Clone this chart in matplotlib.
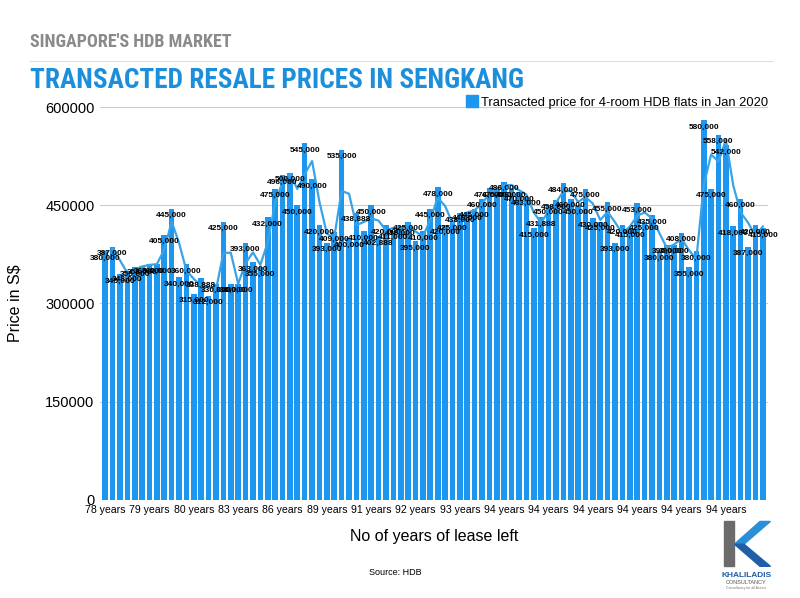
import matplotlib
matplotlib.use("Agg")
import matplotlib.pyplot as plt
import numpy as np
from matplotlib import font_manager
from matplotlib.patches import Polygon
from matplotlib.lines import Line2D

# remaining lease (x tick every 6th bar) and transacted prices
lease_ticks = ["78 years", "79 years", "80 years", "83 years", "86 years", "89 years",
               "91 years", "92 years", "93 years", "94 years", "94 years", "94 years",
               "94 years", "94 years", "94 years"]
prices = [380000, 387000, 345000, 348000, 355000, 358000, 360000, 360000, 405000, 445000,
          340000, 360000, 315000, 338888, 312000, 330000, 425000, 330000, 330000, 393000,
          363000, 355000, 432000, 475000, 496000, 500000, 450000, 545000, 490000, 420000,
          393000, 409000, 535000, 400000, 438888, 410000, 450000, 402888, 420000, 411000,
          418000, 425000, 395000, 410000, 445000, 478000, 420000, 425000, 438000, 440000,
          445000, 460000, 476000, 475000, 486000, 476000, 470000, 463000, 415000, 431888,
          450000, 458000, 484000, 460000, 450000, 475000, 430000, 425000, 455000, 393000,
          420000, 415000, 453000, 425000, 435000, 380000, 390000, 390000, 408000, 355000,
          380000, 580000, 475000, 558000, 542000, 418000, 460000, 387000, 420000, 415000]
tick_step = 6
yticks = [0, 150000, 300000, 450000, 600000]

BAR = "#1c96ef"
LINE = "#3aa3e6"

plt.rcParams["font.family"] = ["Liberation Sans", "DejaVu Sans"]

# pick a narrow font for the header if one is installed
names = {f.name for f in font_manager.fontManager.ttflist}
narrow = [n for n in ["Liberation Sans Narrow", "DejaVu Sans Condensed", "Roboto Condensed",
                      "Open Sans Condensed", "Noto Sans Display"] if n in names]
head_font = narrow + ["Roboto", "DejaVu Sans"]

fig = plt.figure(figsize=(8, 5.98), dpi=100)
ax = fig.add_axes([0.125, 0.164, 0.835, 0.657])

x = np.arange(len(prices))
ax.bar(x, prices, width=0.76, color=BAR, zorder=2)

# 2-period moving average trend line
p = np.array(prices, dtype=float)
ma = (p[1:] + p[:-1]) / 2
ax.plot(x[1:], ma, color=LINE, lw=1.6, zorder=3)

for xi, v in zip(x, prices):
    ax.annotate(f"{v:,}", (xi, v), xytext=(0, -5), textcoords="offset points",
                ha="center", va="center", fontsize=6, fontweight="bold",
                color="black", zorder=4)

ax.set_ylim(0, 600000)
ax.set_xlim(-0.7, len(prices) - 0.3)
ax.set_yticks(yticks)
ax.set_yticklabels([str(v) for v in yticks], fontsize=10.5)
ax.set_xticks(x[::tick_step])
ax.set_xticklabels(lease_ticks, fontsize=7.6)
ax.tick_params(length=0, pad=4)
ax.grid(axis="y", color="#cccccc", lw=0.8, zorder=0)
for s in ax.spines.values():
    s.set_visible(False)
ax.axhline(0, color="#bbbbbb", lw=0.8, zorder=1)

ax.set_xlabel("No of years of lease left", fontsize=11.5, labelpad=10)
ax.set_ylabel("Price in S$", fontsize=11.5, labelpad=16)

# legend
handle = Line2D([], [], marker="s", color="none", markerfacecolor=BAR,
                markeredgecolor=BAR, markersize=8)
fig.legend([handle], ["Transacted price for 4-room HDB flats in Jan 2020"],
           loc="center left", bbox_to_anchor=(0.575, 0.828), frameon=False,
           fontsize=9.3, handletextpad=0.2, borderaxespad=0, handlelength=1)

# header, sized to the width it takes in the reference
sub = fig.text(0.0375, 0.93, "SINGAPORE'S HDB MARKET", fontsize=12.5, fontweight="bold",
               color="#8a8a8a", family=head_font, va="center", ha="left")
fig.add_artist(Line2D([0.0375, 0.965], [0.898, 0.898], color="#dddddd", lw=0.8))
title = fig.text(0.0375, 0.866, "TRANSACTED RESALE PRICES IN SENGKANG", fontsize=23,
                 fontweight="bold", color="#1b8fdc", family=head_font,
                 va="center", ha="left")

renderer = fig.canvas.get_renderer()
for t, target_w, max_size in [(sub, 238, 13), (title, 495, 26)]:
    w = t.get_window_extent(renderer).width
    t.set_fontsize(min(max_size, t.get_fontsize() * target_w / w))

fig.text(0.494, 0.042, "Source: HDB", fontsize=6.5, ha="center", va="center")

# logo
fig.add_artist(Polygon([[0.905, 0.128], [0.918, 0.128], [0.918, 0.053], [0.905, 0.053]],
                       closed=True, transform=fig.transFigure, color="#6b6b6b"))
fig.add_artist(Polygon([[0.918, 0.09], [0.95, 0.128], [0.963, 0.128], [0.93, 0.09]],
                       closed=True, transform=fig.transFigure, color="#2a8fd6"))
fig.add_artist(Polygon([[0.918, 0.09], [0.93, 0.09], [0.963, 0.053], [0.95, 0.053]],
                       closed=True, transform=fig.transFigure, color="#1f5fa8"))
fig.text(0.933, 0.038, "KHALILADIS", fontsize=6, fontweight="bold", color="#1f5fa8",
         ha="center", va="center")
fig.text(0.933, 0.026, "CONSULTANCY", fontsize=4, color="#555555", ha="center", va="center")
fig.text(0.933, 0.016, "Consultancy for all Assets", fontsize=2.5, color="#777777",
         ha="center", va="center")

fig.savefig("out.png", dpi=100)
